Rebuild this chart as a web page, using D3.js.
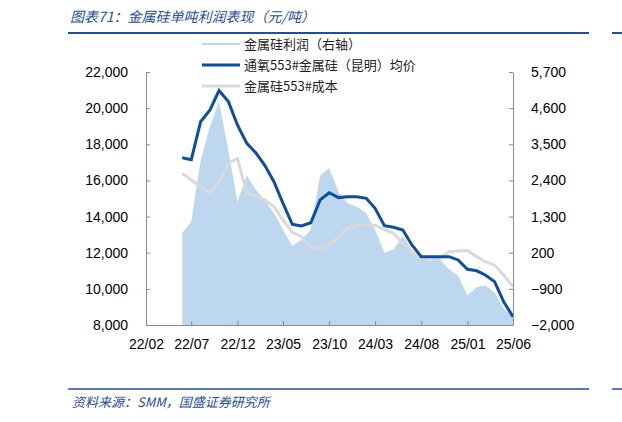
<!DOCTYPE html>
<html>
<head>
<meta charset="utf-8">
<script src="https://d3js.org/d3.v7.min.js"></script>
<style>
  body { margin: 0; background: #fff; }
  text { font-family: "Liberation Sans", Arial, sans-serif; }
  .cjk { font-family: "Noto Sans CJK SC", sans-serif; }
</style>
</head>
<body>
<svg id="chart" width="622" height="422"></svg>
<script>
// monthly data 22/06 .. 25/06
var startMonth = new Date(2022, 5, 1);
var price = [17250, 17150, 19250, 19900, 20970, 20360, 19070, 18050, 17500, 16850, 15930, 14730, 13570,
  13480, 13660, 14920, 15320, 15050, 15100, 15100, 15010, 14460, 13500, 13410, 13260, 12430, 11780,
  11780, 11780, 11780, 11600, 11080, 11000, 10770, 10400, 9290, 8460];
var cost = [16390, 16020, 15650, 15290, 15930, 16950, 17220, 15290, 15100, 14920, 14550, 13810, 13130,
  12890, 12330, 12240, 12430, 12890, 13350, 13500, 13530, 13530, 13260, 13070, 12520, 12060, 11690,
  11600, 11690, 12060, 12100, 12120, 11780, 11500, 11320, 10770, 10120];
var profit = [800, 1150, 3000, 4050, 4800, 3300, 1750, 2550, 2100, 1800, 1400, 900, 400,
  600, 900, 2550, 2770, 2050, 1700, 1600, 1400, 900, 200, 300, 700, 300, 0,
  0, 0, -300, -500, -1100, -850, -800, -1000, -1500, -1750];
var leftTicks = [8000, 10000, 12000, 14000, 16000, 18000, 20000, 22000];
var rightTicks = [-2000, -900, 200, 1300, 2400, 3500, 4600, 5700];
var xTickLabels = ["22/02", "22/07", "22/12", "23/05", "23/10", "24/03", "24/08", "25/01", "25/06"];

var svg = d3.select("#chart");
var L = 146, R = 513, T = 72, B = 325;
var dates = price.map(function (d, i) { return d3.timeMonth.offset(startMonth, i); });
var x = d3.scaleTime().domain([new Date(2022, 1, 1), new Date(2025, 5, 1)]).range([L, R]);
var y = d3.scaleLinear().domain([8000, 22000]).range([B, T]);
var y2 = d3.scaleLinear().domain([-2000, 5700]).range([B, T]);
var axisColor = "#8c8c8c";

// title
svg.append("text").attr("class", "cjk").attr("x", 70).attr("y", 22)
  .attr("font-size", 14).attr("font-style", "italic").attr("fill", "#1f4e9a")
  .text("图表71：金属硅单吨利润表现（元/吨）");
svg.append("line").attr("x1", 68).attr("x2", 589).attr("y1", 33).attr("y2", 33)
  .attr("stroke", "#1f4e9a").attr("stroke-width", 2);
svg.append("line").attr("x1", 612).attr("x2", 622).attr("y1", 33).attr("y2", 33)
  .attr("stroke", "#1f4e9a").attr("stroke-width", 2);
svg.append("line").attr("x1", 68).attr("x2", 589).attr("y1", 389).attr("y2", 389)
  .attr("stroke", "#1f4e9a").attr("stroke-width", 1.5);
svg.append("line").attr("x1", 612).attr("x2", 622).attr("y1", 389).attr("y2", 389)
  .attr("stroke", "#1f4e9a").attr("stroke-width", 1.5);
svg.append("text").attr("class", "cjk").attr("x", 72).attr("y", 407)
  .attr("font-size", 13).attr("font-style", "italic").attr("fill", "#1f4e9a")
  .text("资料来源：SMM，国盛证券研究所");

// profit area
svg.append("path").datum(profit)
  .attr("fill", "#bdd7ee")
  .attr("d", d3.area().x(function (d, i) { return x(dates[i]); }).y0(B).y1(function (d) { return y2(d); }));

// lines
svg.append("path").datum(cost).attr("fill", "none").attr("stroke", "#d9d9d9").attr("stroke-width", 3)
  .attr("d", d3.line().x(function (d, i) { return x(dates[i]); }).y(function (d) { return y(d); }));
svg.append("path").datum(price).attr("fill", "none").attr("stroke", "#0b4ea2").attr("stroke-width", 3)
  .attr("d", d3.line().x(function (d, i) { return x(dates[i]); }).y(function (d) { return y(d); }));

// axes
function styleAxis(g) {
  g.select(".domain").attr("stroke", axisColor);
  g.selectAll(".tick line").attr("stroke", axisColor);
  g.selectAll("text").attr("font-size", 14).attr("fill", "#000")
    .attr("font-family", "Liberation Sans, Arial, sans-serif");
}
svg.append("g").attr("transform", "translate(" + L + ",0)")
  .call(d3.axisLeft(y).tickValues(leftTicks).tickFormat(d3.format(",")).tickSizeInner(-4).tickSizeOuter(0).tickPadding(18))
  .call(styleAxis);
svg.append("g").attr("transform", "translate(" + R + ",0)")
  .call(d3.axisRight(y2).tickValues(rightTicks).tickFormat(d3.format(",")).tickSizeInner(-4).tickSizeOuter(0).tickPadding(18))
  .call(styleAxis);
var xTicks = xTickLabels.map(function (s) {
  var p = s.split("/");
  return new Date(2000 + +p[0], +p[1] - 1, 1);
});
svg.append("g").attr("transform", "translate(0," + B + ")")
  .call(d3.axisBottom(x).tickValues(xTicks).tickFormat(function (d, i) { return xTickLabels[i]; })
    .tickSizeInner(-4).tickSizeOuter(0).tickPadding(14))
  .call(styleAxis);

// legend
var legend = [
  { name: "金属硅利润（右轴）", color: "#bdd7ee", w: 2 },
  { name: "通氧553#金属硅（昆明）均价", color: "#0b4ea2", w: 3 },
  { name: "金属硅553#成本", color: "#d9d9d9", w: 3 }
];
legend.forEach(function (d, i) {
  var yy = 44 + i * 21;
  svg.append("line").attr("x1", 202).attr("x2", 240).attr("y1", yy).attr("y2", yy)
    .attr("stroke", d.color).attr("stroke-width", d.w);
  svg.append("text").attr("class", "cjk").attr("x", 244).attr("y", yy + 5)
    .attr("font-size", 13).attr("fill", "#222").text(d.name);
});
</script>
</body>
</html>
